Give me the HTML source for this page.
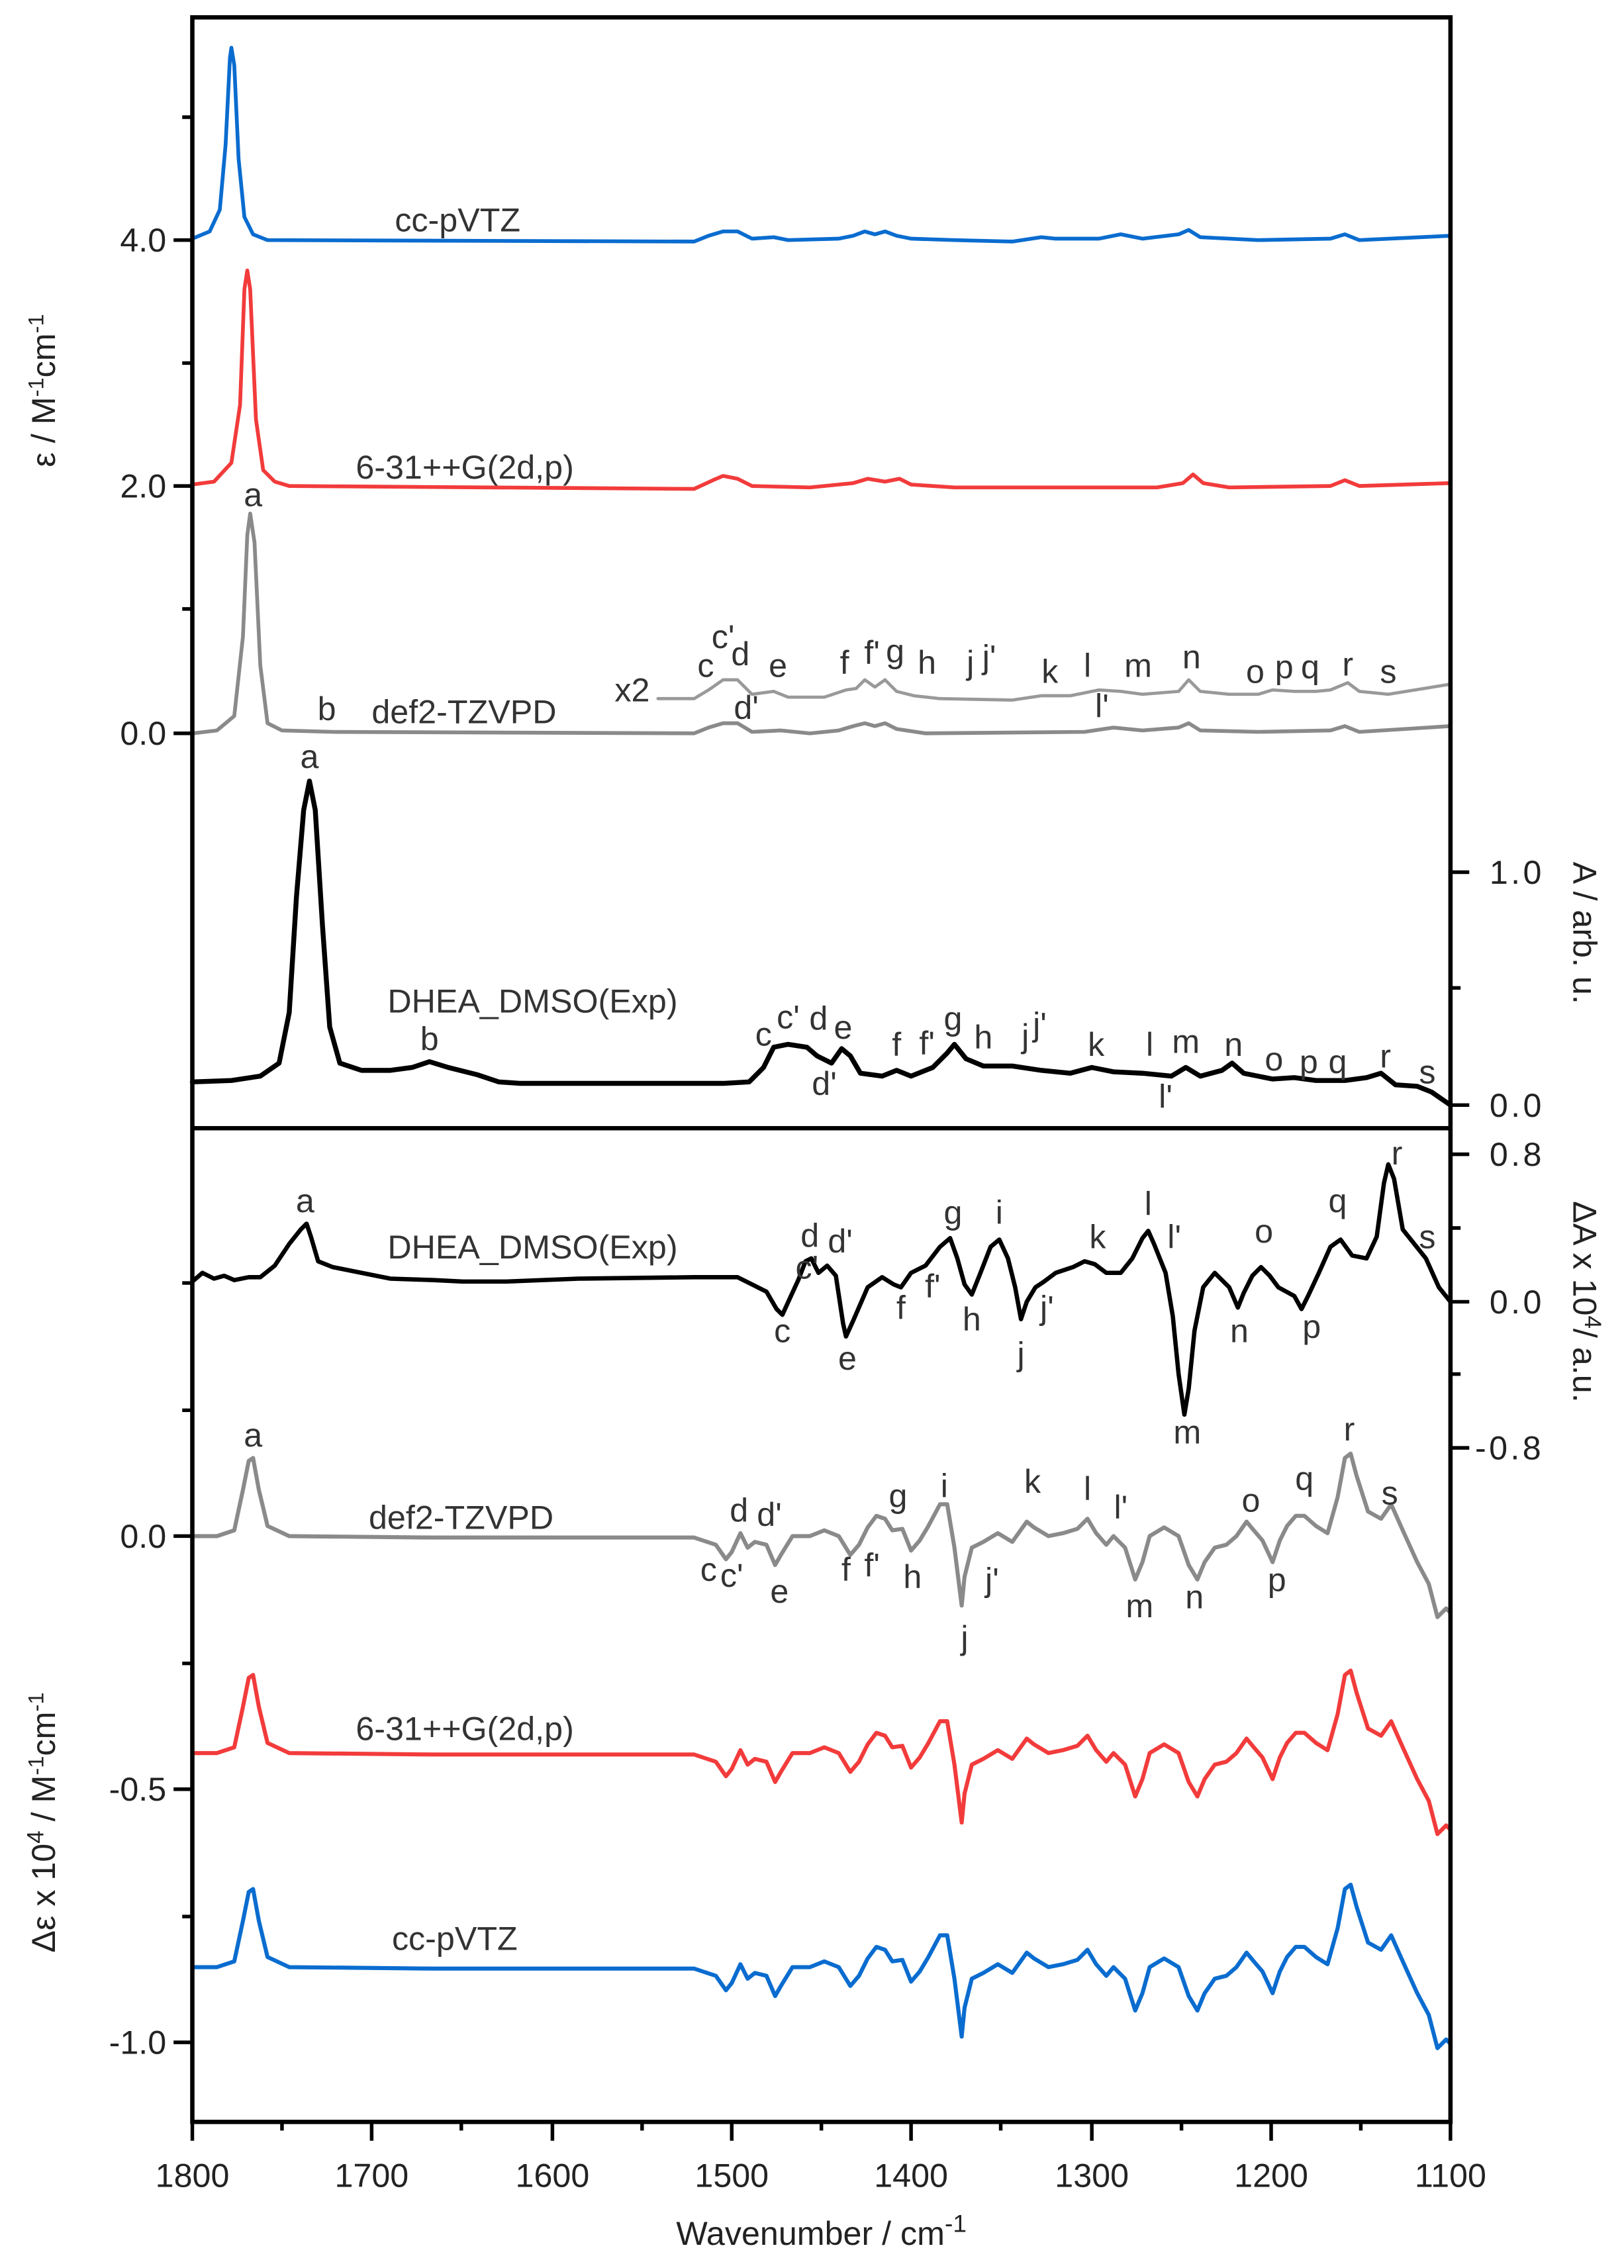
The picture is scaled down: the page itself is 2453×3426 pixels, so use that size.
<!DOCTYPE html>
<html><head><meta charset="utf-8"><style>html,body{margin:0;padding:0;background:#fff}svg{display:block}</style></head><body>
<svg width="2453" height="3426" viewBox="0 0 1123 1568" preserveAspectRatio="none" xmlns="http://www.w3.org/2000/svg" xmlns:xlink="http://www.w3.org/1999/xlink" font-family="Liberation Sans, Arial, sans-serif">
<rect width="1123" height="1568" fill="#fff"/>
<g fill="none" stroke-linejoin="round" stroke-linecap="round">
<polyline stroke="#0a6ccf" stroke-width="2.6" points="133,165 145,160 152,145 156,100 159,40 160,33 162,45 165,110 169,150 175,162 185,166 480,167 490,163 500,160 510,160 520,165 535,164 545,166 580,165 590,163 598,160 605,162 612,160 620,163 630,165 660,166 700,167 720,164 730,165 760,165 775,162 790,165 815,162 822,159 830,164 870,166 920,165 930,162 940,166 1003,163"/>
<polyline stroke="#f23b3b" stroke-width="2.6" points="133,335 148,333 160,320 166,280 169,200 171,187 173,200 177,290 182,325 190,333 200,336 480,338 493,332 500,329 510,331 520,336 560,337 590,334 600,331 612,333 622,331 630,335 660,337 800,337 818,334 825,328 832,334 850,337 920,336 930,332 940,336 1003,334"/>
<polyline stroke="#8a8a8a" stroke-width="2.6" points="133,507 150,505 162,495 168,440 171,370 173,355 176,375 180,460 185,500 195,505 230,506 480,507 490,503 500,500 510,500 520,506 540,505 560,507 580,505 590,502 598,500 605,502 612,500 620,504 640,507 750,506 770,503 790,505 815,503 822,500 830,505 870,506 920,505 930,502 940,506 1003,502"/>
<polyline stroke="#999" stroke-width="2.2" points="455,483 480,483 490,477 500,470 510,470 520,480 535,478 545,482 570,482 585,477 592,476 598,470 605,475 612,470 620,478 632,481 650,483 700,484 720,481 740,481 750,479 760,477 775,478 790,480 815,478 822,470 830,478 850,480 870,480 880,477 895,478 910,478 920,477 932,472 940,478 960,480 1003,473"/>
<polyline stroke="#000" stroke-width="3.4" points="133,748 160,747 180,744 193,735 200,700 205,620 210,560 214,540 218,560 223,640 228,710 235,735 250,740 270,740 285,738 297,734 310,738 330,743 345,748 360,749 400,749 500,749 518,748 528,738 535,724 545,722 558,724 565,730 575,735 582,725 588,730 595,742 610,744 620,740 630,744 645,738 655,728 660,722 668,732 680,737 700,737 720,740 740,742 755,738 770,741 790,742 810,744 820,738 830,744 845,740 852,735 860,742 880,746 895,745 910,747 930,747 945,745 955,742 965,750 980,751 990,755 1003,764"/>
<polyline stroke="#000" stroke-width="3" points="133,886 140,880 148,884 155,882 162,885 172,883 180,883 190,875 200,860 208,850 212,846 215,855 220,872 230,876 250,880 270,884 300,885 320,886 350,886 400,884 480,883 510,883 520,888 530,893 537,905 541,909 546,898 552,885 557,872 561,870 566,880 572,875 578,882 583,915 585,924 590,913 600,890 610,883 618,888 623,890 630,880 640,875 650,862 657,856 662,870 667,888 672,895 678,880 685,862 691,857 697,870 702,890 706,912 710,900 716,890 722,886 730,880 742,876 750,872 757,874 765,880 775,880 783,870 790,856 794,851 798,860 806,880 811,910 815,950 819,978 822,960 826,920 832,890 840,880 850,890 856,904 860,894 866,882 872,876 878,882 884,890 895,896 900,905 905,895 912,880 920,862 927,857 935,868 945,870 952,855 957,818 960,805 964,815 970,850 978,860 986,870 995,890 1003,900"/>
<g stroke="#8a8a8a" stroke-width="2.8">
<polyline id="cd" points="133,1062 150,1062 162,1058 168,1030 172,1010 175,1008 179,1030 185,1055 200,1062 300,1063 480,1063 495,1068 502,1078 506,1073 512,1060 517,1070 522,1066 530,1068 536,1082 540,1075 548,1062 560,1062 570,1058 580,1062 588,1075 594,1068 600,1056 606,1048 612,1050 617,1058 624,1057 630,1072 636,1065 642,1055 650,1040 655,1040 660,1070 665,1110 667,1090 672,1070 680,1066 690,1060 700,1066 710,1052 715,1056 725,1062 735,1060 745,1057 752,1050 758,1060 765,1068 770,1062 778,1070 785,1092 790,1080 795,1062 805,1056 815,1062 822,1082 828,1092 833,1080 840,1070 848,1068 855,1062 862,1052 867,1058 873,1065 880,1080 885,1065 890,1055 896,1048 902,1048 910,1055 918,1060 925,1035 930,1008 934,1005 938,1020 946,1045 955,1050 962,1040 970,1058 980,1080 988,1095 994,1118 1000,1112 1003,1115"/>
</g>
<g stroke="#f23b3b" stroke-width="2.8" transform="translate(0,150)"><use href="#cd" xlink:href="#cd"/></g>
<g stroke="#0a6ccf" stroke-width="2.8" transform="translate(0,298)"><use href="#cd" xlink:href="#cd"/></g>
</g>
<g stroke="#000" fill="none">
<rect x="133" y="12" width="870" height="1455" stroke-width="3"/>
<line x1="133" y1="780" x2="1003" y2="780" stroke-width="3"/>
<path stroke-width="2.5" d="M133,1467v13M257,1467v13M382,1467v13M506,1467v13M630,1467v13M755,1467v13M879,1467v13M1003,1467v13M195,1467v6M319,1467v6M444,1467v6M568,1467v6M692,1467v6M817,1467v6M941,1467v6"/>
<path stroke-width="2.5" d="M133,166h-13M133,336h-13M133,507h-13M133,81h-7M133,251h-7M133,421h-7M133,1062h-13M133,1237h-13M133,1412h-13M133,887h-7M133,975h-7M133,1150h-7M133,1325h-7"/>
<path stroke-width="2.5" d="M1003,603h13M1003,764h13M1003,683h7M1003,798h13M1003,900h13M1003,1001h13M1003,849h7M1003,950h7"/>
</g>
<g fill="#222" font-size="23">
<g text-anchor="middle">
<text x="133" y="1512">1800</text><text x="257" y="1512">1700</text><text x="382" y="1512">1600</text><text x="506" y="1512">1500</text><text x="630" y="1512">1400</text><text x="755" y="1512">1300</text><text x="879" y="1512">1200</text><text x="1003" y="1512">1100</text>
<text x="568" y="1552">Wavenumber / cm<tspan dy="-9" font-size="17">-1</tspan></text>
</g>
<g text-anchor="end">
<text x="115" y="174">4.0</text><text x="115" y="344">2.0</text><text x="115" y="515">0.0</text>
<text x="115" y="1070">0.0</text><text x="115" y="1245">-0.5</text><text x="115" y="1420">-1.0</text>
</g>
<g letter-spacing="2">
<text x="1030" y="611">1.0</text><text x="1030" y="772">0.0</text><text x="1030" y="806">0.8</text><text x="1030" y="908">0.0</text><text x="1020" y="1009">-0.8</text>
</g>
<text transform="translate(38,270) rotate(-90)" text-anchor="middle">ε / M<tspan dy="-8" font-size="15">-1</tspan><tspan dy="8">cm</tspan><tspan dy="-8" font-size="15">-1</tspan></text>
<text transform="translate(38,1260) rotate(-90)" text-anchor="middle">Δε x 10<tspan dy="-8" font-size="16">4</tspan><tspan dy="8"> / M</tspan><tspan dy="-8" font-size="15">-1</tspan><tspan dy="8">cm</tspan><tspan dy="-8" font-size="15">-1</tspan></text>
<text transform="translate(1088,645) rotate(90)" text-anchor="middle">A / arb. u.</text>
<text transform="translate(1088,900) rotate(90)" text-anchor="middle">ΔA x 10<tspan dy="-8" font-size="16">4</tspan><tspan dy="8">/ a.u.</tspan></text>
</g>
<g fill="#333" font-size="23">
<text x="273" y="160">cc-pVTZ</text>
<text x="246" y="331">6-31++G(2d,p)</text>
<text x="257" y="500">def2-TZVPD</text>
<text x="268" y="700">DHEA_DMSO(Exp)</text>
<text x="268" y="870">DHEA_DMSO(Exp)</text>
<text x="255" y="1057">def2-TZVPD</text>
<text x="246" y="1203">6-31++G(2d,p)</text>
<text x="271" y="1348">cc-pVTZ</text>
<text x="425" y="485">x2</text>
<g text-anchor="middle">
<text x="175" y="350">a</text><text x="226" y="498">b</text>
<text x="488" y="468">c</text><text x="500" y="448">c'</text><text x="512" y="460">d</text><text x="538" y="468">e</text><text x="584" y="466">f</text><text x="603" y="459">f'</text><text x="619" y="458">g</text><text x="641" y="466">h</text><text x="671" y="466">j</text><text x="684" y="462">j'</text><text x="726" y="472">k</text><text x="752" y="468">l</text><text x="787" y="468">m</text><text x="824" y="462">n</text><text x="868" y="472">o</text><text x="888" y="469">p</text><text x="906" y="469">q</text><text x="932" y="467">r</text><text x="960" y="472">s</text><text x="516" y="497">d'</text><text x="762" y="496">l'</text>
<text x="214" y="531">a</text><text x="297" y="726">b</text><text x="528" y="723">c</text><text x="545" y="711">c'</text><text x="566" y="712">d</text><text x="583" y="718">e</text><text x="570" y="757">d'</text><text x="620" y="730">f</text><text x="641" y="729">f'</text><text x="659" y="712">g</text><text x="680" y="725">h</text><text x="709" y="724">j</text><text x="719" y="716">j'</text><text x="758" y="730">k</text><text x="795" y="730">l</text><text x="820" y="728">m</text><text x="853" y="730">n</text><text x="881" y="740">o</text><text x="905" y="742">p</text><text x="925" y="742">q</text><text x="958" y="738">r</text><text x="987" y="749">s</text><text x="806" y="766">l'</text>
<text x="211" y="838">a</text><text x="560" y="862">d</text><text x="581" y="866">d'</text><text x="558" y="884">c'</text><text x="541" y="928">c</text><text x="586" y="947">e</text><text x="623" y="912">f</text><text x="645" y="897">f'</text><text x="659" y="846">g</text><text x="672" y="920">h</text><text x="691" y="846">i</text><text x="706" y="944">j</text><text x="724" y="912">j'</text><text x="759" y="863">k</text><text x="794" y="840">l</text><text x="812" y="863">l'</text><text x="821" y="998">m</text><text x="857" y="928">n</text><text x="874" y="859">o</text><text x="907" y="925">p</text><text x="925" y="838">q</text><text x="966" y="805">r</text><text x="987" y="863">s</text>
<text x="175" y="1000">a</text><text x="511" y="1052">d</text><text x="532" y="1055">d'</text><text x="490" y="1093">c</text><text x="506" y="1097">c'</text><text x="539" y="1108">e</text><text x="585" y="1093">f</text><text x="603" y="1090">f'</text><text x="621" y="1042">g</text><text x="631" y="1098">h</text><text x="653" y="1035">i</text><text x="667" y="1140">j</text><text x="686" y="1100">j'</text><text x="714" y="1032">k</text><text x="752" y="1037">l</text><text x="775" y="1050">l'</text><text x="788" y="1118">m</text><text x="826" y="1112">n</text><text x="865" y="1045">o</text><text x="883" y="1100">p</text><text x="902" y="1030">q</text><text x="933" y="996">r</text><text x="961" y="1040">s</text>
</g>
</g>
</svg>
</body></html>
